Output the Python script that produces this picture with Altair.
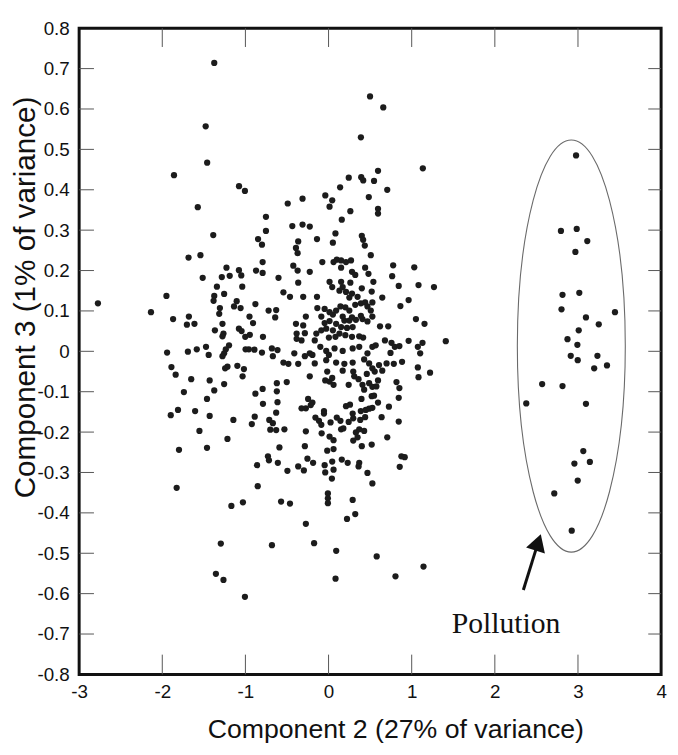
import altair as alt
import pandas as pd

# (Component 2, Component 3) pairs, grouped by region
upper_left = [
    (-1.375, 0.714), (-1.478, 0.557), (-1.46, 0.467), (-1.859, 0.436), (-1.077, 0.409), (-1.006, 0.397),
    (-1.573, 0.357), (-1.387, 0.288), (-1.684, 0.232), (-1.541, 0.238), (-1.228, 0.207), (-1.078, 0.201),
    (-1.050, 0.188), (-1.514, 0.182), (-1.284, 0.184), (-1.189, 0.187), (-1.038, 0.160), (-1.343, 0.160),
    (-1.256, 0.142), (-1.375, 0.137), (-1.950, 0.137), (-1.383, 0.125), (-2.774, 0.119), (-2.136, 0.097),
    (-1.105, 0.124), (-1.137, 0.111), (-1.058, 0.107), (-1.307, 0.107), (-1.315, 0.093), (-1.870, 0.080),
    (-1.680, 0.086), (-1.704, 0.066), (-1.613, 0.068), (-1.276, 0.068), (-1.367, 0.052), (-1.078, 0.056),
    (-1.046, 0.050), (-1.264, 0.044), (-1.276, 0.037), (-1.002, 0.036), (-1.942, -0.003), (-1.692, -0.001),
    (-1.585, 0.005), (-1.474, 0.011), (-1.442, -0.009), (-1.197, 0.015), (-1.236, 0.005), (-1.256, -0.005),
    (-1.276, -0.012), (-0.998, 0.005), (-1.890, -0.039), (-1.244, -0.042), (-1.216, -0.038), (-1.097, -0.036),
    (-1.018, -0.044),
]
upper_center = [
    (0.499, 0.631), (0.658, 0.604), (0.389, 0.530), (0.595, 0.447), (1.134, 0.453), (0.243, 0.430),
    (0.393, 0.431), (0.417, 0.423), (0.547, 0.422), (0.139, 0.406), (0.706, 0.400), (-0.039, 0.386),
    (0.044, 0.374), (-0.313, 0.378), (0.484, 0.382),
]
core_top = [
    (-0.491, 0.366), (0.012, 0.358), (0.262, 0.347), (0.595, 0.353), (0.595, 0.341),
    (-0.753, 0.333), (0.159, 0.326), (-0.436, 0.310), (-0.313, 0.314), (-0.226, 0.309), (-0.753, 0.298),
    (0.083, 0.292), (-0.848, 0.278), (-0.139, 0.278), (0.400, 0.286), (0.416, 0.276), (-0.365, 0.272),
    (-0.801, 0.264), (0.052, 0.269), (0.436, 0.262), (-0.392, 0.256), (-0.372, 0.243), (0.508, 0.238),
    (-0.793, 0.221), (0.099, 0.227), (-0.075, 0.221), (0.060, 0.221), (0.151, 0.225), (0.210, 0.221),
    (0.270, 0.225), (0.151, 0.207), (-0.424, 0.212), (-0.372, 0.200), (-0.226, 0.197), (-0.872, 0.200),
    (-0.793, 0.194), (0.282, 0.197), (0.321, 0.189), (0.440, 0.207), (0.480, 0.192), (0.777, 0.213),
    (1.031, 0.208), (0.765, 0.186), (-0.602, 0.182), (0.012, 0.172), (0.151, 0.172), (0.262, 0.170),
    (0.539, 0.172), (0.044, 0.159), (0.170, 0.159), (-0.365, 0.170), (0.844, 0.162), (1.082, 0.164),
    (1.268, 0.159), (0.131, 0.150), (0.210, 0.147), (0.282, 0.143), (0.400, 0.156), (0.519, 0.148),
    (-0.543, 0.146), (-0.464, 0.135), (-0.305, 0.135), (-0.139, 0.135), (0.250, 0.133), (0.349, 0.135),
]
core_middle = [
    (-0.880, 0.117), (-0.721, 0.101), (-0.630, 0.102), (-0.642, 0.084), (-0.135, 0.107), (-0.047, 0.105),
    (0.012, 0.097), (0.091, 0.101), (0.143, 0.111), (0.202, 0.109), (0.250, 0.101), (0.321, 0.115),
    (0.389, 0.119), (0.440, 0.121), (0.468, 0.111), (0.527, 0.121), (0.646, 0.133), (0.963, 0.127),
    (0.864, 0.112), (0.508, 0.101), (-0.273, 0.086), (-0.087, 0.086), (0.052, 0.091), (0.170, 0.086),
    (0.282, 0.084), (0.389, 0.088), (0.527, 0.086), (-0.951, 0.086), (-0.908, 0.070), (-0.392, 0.068),
    (-0.305, 0.064), (-0.047, 0.070), (0.012, 0.075), (0.091, 0.068), (0.190, 0.076), (0.250, 0.076),
    (0.329, 0.078), (0.408, 0.080), (0.468, 0.074), (1.051, 0.080), (1.154, 0.068), (0.619, 0.062),
    (0.718, 0.062), (-0.947, 0.041), (-0.789, 0.036), (-0.384, 0.044), (-0.285, 0.045), (-0.384, 0.031),
    (-0.325, 0.027), (-0.147, 0.044), (-0.166, 0.027), (-0.087, 0.052), (-0.028, 0.056), (0.052, 0.052),
    (0.083, 0.036), (0.131, 0.044), (0.202, 0.040), (0.282, 0.036), (0.369, 0.037), (0.416, 0.034),
    (0.004, 0.034), (0.151, 0.060), (0.222, 0.058), (0.290, 0.060), (0.527, 0.011), (0.567, 0.015),
    (0.678, 0.027), (0.757, 0.021), (0.797, 0.011), (0.852, 0.013), (0.963, 0.026), (1.074, 0.011),
    (1.130, 0.021), (1.410, 0.025),
]
core_low = [
    (-0.959, 0.005), (-0.892, 0.004), (-0.801, -0.003), (-0.682, 0.007), (-0.670, -0.012), (-0.614, 0.003),
    (-0.412, -0.005), (-0.285, -0.012), (-0.226, -0.005), (-0.194, -0.009), (-0.099, 0.011), (-0.028, 0.001),
    (0.004, -0.009), (0.072, 0.007), (0.170, 0.001), (0.290, 0.007), (0.369, 0.011), (0.468, -0.005),
    (0.745, -0.004), (1.102, -0.005), (-0.543, -0.028), (-0.483, -0.031), (-0.365, -0.031), (-0.166, -0.030),
    (-0.028, -0.022), (0.091, -0.028), (0.190, -0.031), (0.290, -0.028), (0.428, -0.020), (0.488, -0.030),
    (0.527, -0.042), (0.607, -0.034), (0.698, -0.030), (0.785, -0.031), (0.884, -0.026), (1.074, -0.040),
]
lower_left = [
    (-1.839, -0.058), (-1.652, -0.069), (-1.430, -0.072), (-1.256, -0.081), (-1.034, -0.062), (-1.740, -0.101),
    (-1.375, -0.097), (-1.462, -0.118), (-1.898, -0.158), (-1.811, -0.145), (-1.605, -0.148), (-1.430, -0.160),
    (-1.145, -0.170), (-1.553, -0.197), (-1.216, -0.217), (-1.799, -0.244), (-1.462, -0.239), (-1.827, -0.338),
    (-1.169, -0.383), (-1.030, -0.374),
]
lower_center = [
    (-0.226, -0.062), (-0.016, -0.050), (-0.040, -0.072), (0.012, -0.075), (0.060, -0.083), (0.044, -0.066),
    (0.170, -0.048), (0.297, -0.050), (0.309, -0.062), (0.361, -0.069), (0.460, -0.056), (0.555, -0.050),
    (0.646, -0.048), (0.242, -0.083), (0.408, -0.083), (0.488, -0.079), (0.595, -0.072), (0.527, -0.088),
    (0.575, -0.087), (0.428, -0.095), (0.817, -0.076), (0.852, -0.091), (1.082, -0.064), (1.221, -0.053),
    (-0.622, -0.079), (-0.503, -0.076), (-0.880, -0.105), (-0.793, -0.093), (-0.622, -0.099), (-0.789, -0.130),
    (-0.614, -0.126), (-0.246, -0.118), (-0.194, -0.127), (-0.214, -0.133), (-0.325, -0.141), (-0.273, -0.141),
    (-0.055, -0.148), (-0.055, -0.154), (0.210, -0.136), (0.258, -0.132), (0.519, -0.111), (0.547, -0.110),
    (0.595, -0.127), (0.396, -0.118), (0.388, -0.148), (0.448, -0.145), (0.488, -0.142), (0.527, -0.140),
    (0.726, -0.137), (0.844, -0.115), (-0.630, -0.152), (-0.888, -0.162), (-0.923, -0.180), (-0.713, -0.170),
    (-0.670, -0.178), (-0.701, -0.194), (-0.630, -0.195), (-0.531, -0.193), (-0.158, -0.164), (-0.115, -0.172),
    (-0.087, -0.182), (0.024, -0.176), (0.099, -0.164), (0.143, -0.172), (0.242, -0.175), (0.290, -0.154),
    (0.297, -0.166), (0.381, -0.170), (0.440, -0.163), (0.638, -0.163), (0.844, -0.174), (-0.273, -0.198),
    (-0.083, -0.203), (0.012, -0.211), (0.060, -0.220), (0.151, -0.193), (0.178, -0.191), (0.329, -0.201),
    (0.369, -0.193), (0.428, -0.197), (0.349, -0.213), (0.297, -0.221), (0.400, -0.235), (0.519, -0.231),
    (0.706, -0.213), (-0.591, -0.238), (-0.285, -0.235), (-0.016, -0.246), (0.060, -0.242), (-0.729, -0.260),
    (-0.717, -0.270), (-0.610, -0.276), (-0.860, -0.282), (-0.495, -0.296), (-0.365, -0.285), (-0.297, -0.295),
    (-0.254, -0.266), (-0.186, -0.276), (-0.047, -0.282), (-0.040, -0.300), (0.044, -0.273), (0.060, -0.293),
    (0.159, -0.268), (0.230, -0.276), (0.369, -0.276), (0.361, -0.285), (0.468, -0.301), (0.527, -0.327),
    (0.876, -0.260), (0.916, -0.262), (0.856, -0.286), (0.040, -0.315), (-0.852, -0.334), (-0.008, -0.352),
    (-0.008, -0.364), (-0.008, -0.376), (-0.571, -0.372), (-0.464, -0.377), (0.290, -0.368), (0.321, -0.403),
    (0.222, -0.415), (-0.273, -0.427),
]
bottom_tail = [
    (-1.296, -0.476), (-0.681, -0.480), (-0.174, -0.475), (0.092, -0.494), (0.579, -0.508), (1.142, -0.533),
    (-1.355, -0.551), (-1.264, -0.566), (0.084, -0.563), (0.805, -0.557), (-1.006, -0.608),
]
pollution = [
    (2.977, 0.485), (2.795, 0.298), (2.985, 0.303), (3.112, 0.273), (2.969, 0.246), (2.814, 0.140),
    (3.016, 0.145), (2.802, 0.104), (3.445, 0.097), (3.096, 0.084), (3.250, 0.067), (3.009, 0.052),
    (2.874, 0.030), (2.993, 0.016), (2.913, -0.011), (2.997, -0.022), (3.234, -0.011), (3.349, -0.035),
    (3.195, -0.042), (2.569, -0.081), (2.814, -0.086), (2.378, -0.129), (3.096, -0.130),
    (3.064, -0.247), (2.957, -0.278), (3.143, -0.274), (2.997, -0.320), (2.715, -0.352), (2.925, -0.444),
]

x_label_values = [-3, -2, -1, 0, 1, 2, 3, 4]
y_label_values = [0.8, 0.7, 0.6, 0.5, 0.4, 0.3, 0.2, 0.1, 0.0, -0.1, -0.2, -0.3, -0.4, -0.5, -0.6, -0.7, -0.8]
x_inner_ticks = [-2, -1, 0, 1, 2, 3]
y_inner_ticks = [0.7, 0.6, 0.5, 0.4, 0.3, 0.2, 0.1, 0.0, -0.1, -0.2, -0.3, -0.4, -0.5, -0.6, -0.7]

ellipse_center = [(2.92, 0.013)]
arrow_tail = [(2.343, -0.591)]
arrow_head = [(2.521, -0.473)]
note_pos = [(2.135, -0.675)]
note_text = ["Pollution"]

W, H = 589, 654
FONT = "Liberation Sans"

all_pts = upper_left + upper_center + core_top + core_middle + core_low + lower_left + lower_center + bottom_tail + pollution
df = pd.DataFrame(all_pts, columns=["c2", "c3"])

xs = alt.Scale(domain=[-3, 4], nice=False, zero=False)
ys = alt.Scale(domain=[-0.8, 0.8], nice=False, zero=False)

x_axis = alt.Axis(
    values=x_label_values, ticks=False, domain=False, grid=False,
    labelExpr="datum.value < 0 ? '-' + format(-datum.value, 'd') : format(datum.value, 'd')",
    labelFont=FONT, labelFontSize=19, labelColor="#111", labelPadding=8,
    labelOverlap=False, labelFlush=False,
    title="Component 2 (27% of variance)", titleFont=FONT, titleFontSize=27,
    titleFontWeight="normal", titleColor="#111",
    titleX=320, titleY=56, titleBaseline="middle", titleAlign="center",
)
y_axis = alt.Axis(
    values=y_label_values, ticks=False, domain=False, grid=False,
    labelExpr="abs(datum.value) < 1e-9 ? '0' : (datum.value < 0 ? '-' + format(-datum.value, '.1f') : format(datum.value, '.1f'))",
    labelFont=FONT, labelFontSize=19, labelColor="#111", labelPadding=10,
    labelOverlap=False, labelFlush=False,
    title="Component 3 (1% of variance)", titleFont=FONT, titleFontSize=30,
    titleFontWeight="normal", titleColor="#111",
    titleX=-54, titleY=272, titleBaseline="middle", titleAlign="center", titleAngle=270,
)


def X(field):
    return alt.X(field, type="quantitative", scale=xs, axis=x_axis)


def Y(field):
    return alt.Y(field, type="quantitative", scale=ys, axis=y_axis)


points = alt.Chart(df).mark_circle(size=40, color="#1c1c1c", opacity=1).encode(x=X("c2"), y=Y("c3"))

xt = pd.DataFrame({"c2": x_inner_ticks})
yt = pd.DataFrame({"c3": y_inner_ticks})
tick_style = dict(color="#555", strokeWidth=1)
bottom_ticks = alt.Chart(xt).mark_rule(**tick_style).encode(x=X("c2"), y=alt.value(H - 20), y2=alt.value(H))
top_ticks = alt.Chart(xt).mark_rule(**tick_style).encode(x=X("c2"), y=alt.value(0), y2=alt.value(19))
left_ticks = alt.Chart(yt).mark_rule(**tick_style).encode(y=Y("c3"), x=alt.value(0), x2=alt.value(15))
right_ticks = alt.Chart(yt).mark_rule(**tick_style).encode(y=Y("c3"), x=alt.value(W - 13), x2=alt.value(W))

ell_df = pd.DataFrame(ellipse_center, columns=["c2", "c3"])
ellipse = alt.Chart(ell_df).mark_point(
    shape="M0,-1 A0.262,1 0 0,1 0,1 A0.262,1 0 0,1 0,-1 Z",
    size=173900, filled=False, color="#6a6a6a", strokeWidth=1.1, opacity=1,
).encode(x=X("c2"), y=Y("c3"))

arr_df = pd.DataFrame({
    "c2": [arrow_tail[0][0]], "c3": [arrow_tail[0][1]],
    "c2_end": [arrow_head[0][0]], "c3_end": [arrow_head[0][1]],
})
shaft = alt.Chart(arr_df).mark_rule(color="#111", strokeWidth=3).encode(
    x=X("c2"), y=Y("c3"), x2="c2_end:Q", y2="c3_end:Q")
head = alt.Chart(arr_df).mark_point(
    shape="triangle-up", size=400, filled=True, color="#111", opacity=1, angle=18,
).encode(x=X("c2_end"), y=Y("c3_end"))

note_df = pd.DataFrame({"c2": [note_pos[0][0]], "c3": [note_pos[0][1]], "t": note_text})
note = alt.Chart(note_df).mark_text(
    font="Liberation Serif", fontSize=30, color="#111", align="center", baseline="middle",
).encode(x=X("c2"), y=Y("c3"), text="t:N")

chart = alt.layer(
    points, bottom_ticks, top_ticks, left_ticks, right_ticks, ellipse, shaft, head, note
).properties(
    width=W, height=H,
    autosize=alt.AutoSizeParams(type="none"),
    padding={"left": 72, "top": 16, "right": 9, "bottom": 69},
    background="white",
).configure_view(stroke="#111", strokeWidth=3)

chart.save("out.html", embed_options={"renderer": "svg", "actions": False})
